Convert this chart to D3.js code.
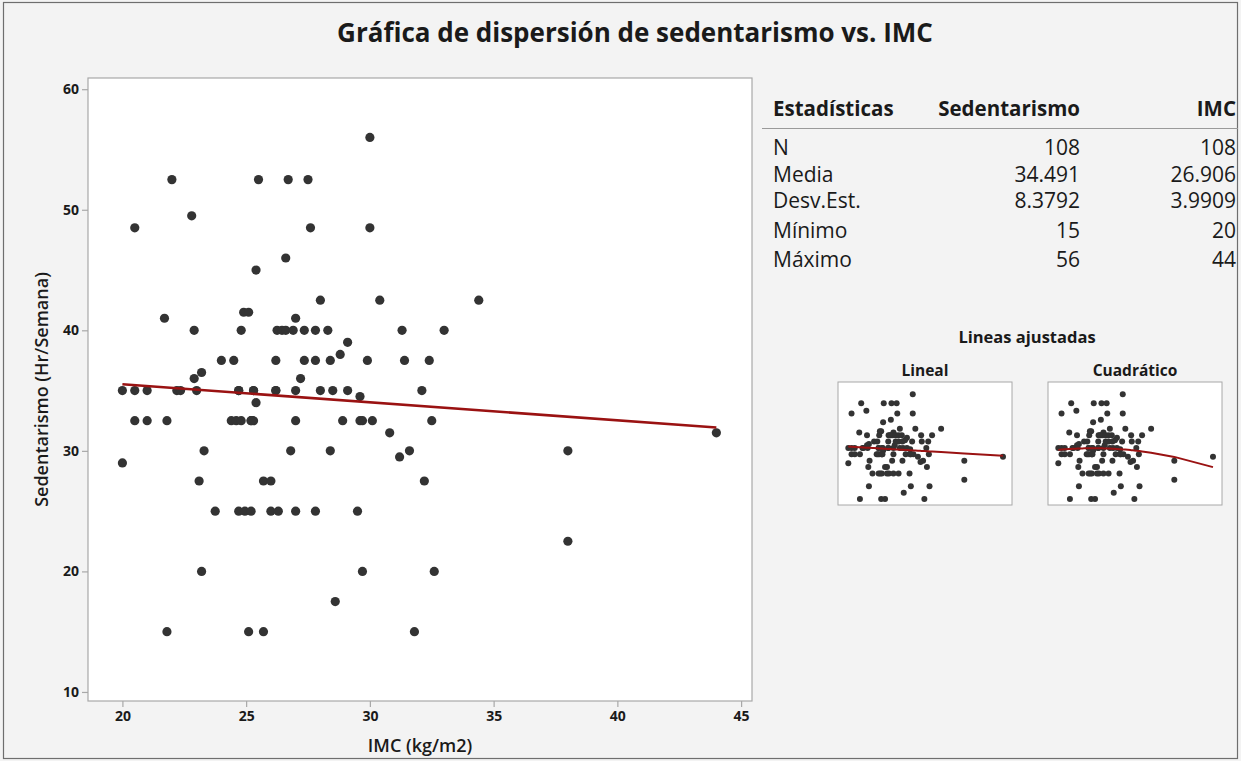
<!DOCTYPE html>
<html>
<head>
<meta charset="utf-8">
<script src="https://cdn.jsdelivr.net/npm/d3@7"></script>
<style>
  body { margin: 0; background: #f3f3f3; }
  svg { display: block; }
  text { font-family: "Open Sans", "Noto Sans", sans-serif; fill: #1a1a1a; }
</style>
</head>
<body>
<svg id="chart" width="1241" height="761"></svg>
<script>
// Índice de masa corporal (kg/m2) por participante
const imc = [
  30.0,
  22.0, 25.5, 26.7, 27.5,
  22.8,
  20.5, 27.6, 30.0,
  26.6,
  25.4,
  28.0, 30.4, 34.4,
  24.9, 25.1,
  21.7, 27.0,
  22.9, 24.8, 26.25, 26.45, 26.6, 26.9, 27.35, 27.8, 28.3, 31.3, 33.0,
  29.1,
  28.8,
  24.0, 24.5, 26.2, 27.35, 27.8, 28.4, 29.9, 31.4, 32.4,
  23.2,
  22.9, 27.2,
  20.0, 20.5, 21.0, 22.2, 22.35, 23.0, 24.7, 25.3, 26.2, 27.0, 28.0, 28.5, 29.1, 32.1, 25.3, 24.7, 26.2,
  29.6,
  25.4,
  20.5, 21.0, 21.8, 24.4, 24.6, 24.8, 25.2, 25.3, 27.0, 28.9, 29.6, 29.7, 30.1, 32.5, 25.2,
  30.8, 44.0,
  23.3, 26.8, 28.4, 31.6, 38.0,
  31.2,
  20.0,
  23.1, 25.7, 26.0, 32.2,
  23.75, 24.7, 24.95, 25.2, 26.0, 26.3, 27.0, 27.8, 29.5,
  38.0,
  23.2, 29.7, 32.6,
  28.6,
  21.8, 25.1, 25.7, 31.8
];

// Horas semanales de sedentarismo, en el mismo orden
const sedentarismo = [
  56,
  52.5, 52.5, 52.5, 52.5,
  49.5,
  48.5, 48.5, 48.5,
  46,
  45,
  42.5, 42.5, 42.5,
  41.5, 41.5,
  41, 41,
  40, 40, 40, 40, 40, 40, 40, 40, 40, 40, 40,
  39,
  38,
  37.5, 37.5, 37.5, 37.5, 37.5, 37.5, 37.5, 37.5, 37.5,
  36.5,
  36, 36,
  35, 35, 35, 35, 35, 35, 35, 35, 35, 35, 35, 35, 35, 35, 35, 35, 35,
  34.5,
  34,
  32.5, 32.5, 32.5, 32.5, 32.5, 32.5, 32.5, 32.5, 32.5, 32.5, 32.5, 32.5, 32.5, 32.5, 32.5,
  31.5, 31.5,
  30, 30, 30, 30, 30,
  29.5,
  29,
  27.5, 27.5, 27.5, 27.5,
  25, 25, 25, 25, 25, 25, 25, 25, 25,
  22.5,
  20, 20, 20,
  17.5,
  15, 15, 15, 15
];

const xTicks = [20, 25, 30, 35, 40, 45];
const yTicks = [10, 20, 30, 40, 50, 60];

// Tabla de estadísticas descriptivas
const statHeaders = ["Estadísticas", "Sedentarismo", "IMC"];
const statLabels = ["N", "Media", "Desv.Est.", "Mínimo", "Máximo"];
const statSed = ["108", "34.491", "8.3792", "15", "56"];
const statImc = ["108", "26.906", "3.9909", "20", "44"];

const fitTitles = ["Lineal", "Cuadrático"];

const points = imc.map((x, i) => ({ x, y: sedentarismo[i] }));

const svg = d3.select("#chart");
const LINE_RED = "#9a1212";
const DOT = "#333333";

// Marco exterior
svg.append("rect")
  .attr("x", 3.5).attr("y", 2.5)
  .attr("width", 1234).attr("height", 756)
  .attr("fill", "#f3f3f3").attr("stroke", "#6e6e6e").attr("stroke-width", 1.2);

// Título
svg.append("text")
  .attr("x", 635).attr("y", 42)
  .attr("text-anchor", "middle")
  .attr("font-size", 26).attr("font-weight", 700)
  .text("Gráfica de dispersión de sedentarismo vs. IMC");

// ---- Gráfica principal ----
const plot = { left: 88, top: 78, right: 752, bottom: 701 };
const x = d3.scaleLinear().domain([18.61, 45.44]).range([plot.left, plot.right]);
const y = d3.scaleLinear().domain([9.25, 60.93]).range([plot.bottom, plot.top]);

svg.append("rect")
  .attr("x", plot.left).attr("y", plot.top)
  .attr("width", plot.right - plot.left).attr("height", plot.bottom - plot.top)
  .attr("fill", "#ffffff").attr("stroke", "#a8a8a8").attr("stroke-width", 1.2);

const xAxis = svg.append("g")
  .attr("transform", `translate(0,${plot.bottom})`)
  .call(d3.axisBottom(x).tickValues(xTicks).tickSize(6).tickPadding(4));
const yAxis = svg.append("g")
  .attr("transform", `translate(${plot.left},0)`)
  .call(d3.axisLeft(y).tickValues(yTicks).tickSize(6).tickPadding(3));
[xAxis, yAxis].forEach(g => {
  g.select(".domain").remove();
  g.selectAll(".tick line").attr("stroke", "#a8a8a8").attr("stroke-width", 1.2);
  g.selectAll(".tick text")
    .attr("font-size", 14).attr("font-weight", 700)
    .attr("font-family", '"Open Sans", "Noto Sans", sans-serif')
    .attr("fill", "#1a1a1a");
});

svg.append("text")
  .attr("x", (plot.left + plot.right) / 2).attr("y", 752)
  .attr("text-anchor", "middle")
  .attr("font-size", 18).attr("font-weight", 600)
  .text("IMC (kg/m2)");

svg.append("text")
  .attr("transform", `translate(48,${(plot.top + plot.bottom) / 2}) rotate(-90)`)
  .attr("text-anchor", "middle")
  .attr("font-size", 18).attr("font-weight", 600)
  .text("Sedentarismo (Hr/Semana)");

// Ajustes por mínimos cuadrados
function linearFit(pts) {
  const mx = d3.mean(pts, d => d.x), my = d3.mean(pts, d => d.y);
  const sxy = d3.sum(pts, d => (d.x - mx) * (d.y - my));
  const sxx = d3.sum(pts, d => (d.x - mx) ** 2);
  const b = sxy / sxx;
  return v => my + b * (v - mx);
}
function quadraticFit(pts) {
  const S = k => d3.sum(pts, d => d.x ** k);
  const T = k => d3.sum(pts, d => d.y * d.x ** k);
  const A = [[S(0), S(1), S(2)], [S(1), S(2), S(3)], [S(2), S(3), S(4)]];
  const B = [T(0), T(1), T(2)];
  // eliminación gaussiana
  const n = 3;
  for (let i = 0; i < n; i++) {
    for (let r = i + 1; r < n; r++) {
      const f = A[r][i] / A[i][i];
      for (let c = i; c < n; c++) A[r][c] -= f * A[i][c];
      B[r] -= f * B[i];
    }
  }
  const c = [0, 0, 0];
  for (let i = n - 1; i >= 0; i--) {
    let s = B[i];
    for (let k = i + 1; k < n; k++) s -= A[i][k] * c[k];
    c[i] = s / A[i][i];
  }
  return v => c[0] + c[1] * v + c[2] * v * v;
}

const lin = linearFit(points);
const quad = quadraticFit(points);
const xExtent = d3.extent(imc);

const plotG = svg.append("g");
plotG.selectAll("circle")
  .data(points).join("circle")
  .attr("cx", d => x(d.x)).attr("cy", d => y(d.y))
  .attr("r", 4.6).attr("fill", DOT);

plotG.append("line")
  .attr("x1", x(xExtent[0])).attr("y1", y(lin(xExtent[0])))
  .attr("x2", x(xExtent[1])).attr("y2", y(lin(xExtent[1])))
  .attr("stroke", LINE_RED).attr("stroke-width", 2.6);

// ---- Tabla de estadísticas ----
const tbl = { left: 773, col1: 1080, col2: 1236, headerY: 116 };
const rowY = [155, 181.5, 208, 237.5, 267];

svg.append("text").attr("x", tbl.left).attr("y", tbl.headerY)
  .attr("font-size", 20.5).attr("font-weight", 700).text(statHeaders[0]);
svg.append("text").attr("x", tbl.col1).attr("y", tbl.headerY)
  .attr("text-anchor", "end").attr("font-size", 20.5).attr("font-weight", 700).text(statHeaders[1]);
svg.append("text").attr("x", tbl.col2).attr("y", tbl.headerY)
  .attr("text-anchor", "end").attr("font-size", 20.5).attr("font-weight", 700).text(statHeaders[2]);
svg.append("line")
  .attr("x1", 762).attr("x2", 1238).attr("y1", 128.5).attr("y2", 128.5)
  .attr("stroke", "#9a9a9a").attr("stroke-width", 1.2);

const rows = svg.append("g").selectAll("g")
  .data(statLabels).join("g");
rows.append("text").attr("x", tbl.left).attr("y", (d, i) => rowY[i])
  .attr("font-size", 21).text(d => d);
rows.append("text").attr("x", tbl.col1).attr("y", (d, i) => rowY[i])
  .attr("text-anchor", "end").attr("font-size", 21).text((d, i) => statSed[i]);
rows.append("text").attr("x", tbl.col2).attr("y", (d, i) => rowY[i])
  .attr("text-anchor", "end").attr("font-size", 21).text((d, i) => statImc[i]);

// ---- Líneas ajustadas (miniaturas) ----
svg.append("text").attr("x", 1027).attr("y", 343)
  .attr("text-anchor", "middle").attr("font-size", 16.5).attr("font-weight", 700)
  .text("Lineas ajustadas");

const thumbs = [
  { left: 838, title: fitTitles[0], fit: lin },
  { left: 1048, title: fitTitles[1], fit: quad }
];
const thumbW = 174, thumbTop = 382, thumbBottom = 505;
const sortedX = Array.from(new Set(imc)).sort(d3.ascending);

thumbs.forEach(t => {
  const tx = d3.scaleLinear().domain([18.4, 45.4]).range([t.left, t.left + thumbW]);
  const ty = d3.scaleLinear().domain([12.66, 60.8]).range([thumbBottom, thumbTop]);
  const g = svg.append("g");
  g.append("text").attr("x", t.left + thumbW / 2).attr("y", thumbTop - 6)
    .attr("text-anchor", "middle").attr("font-size", 15.5).attr("font-weight", 700)
    .text(t.title);
  g.append("rect")
    .attr("x", t.left).attr("y", thumbTop)
    .attr("width", thumbW).attr("height", thumbBottom - thumbTop)
    .attr("fill", "#ffffff").attr("stroke", "#a8a8a8").attr("stroke-width", 1);
  g.selectAll("circle").data(points).join("circle")
    .attr("cx", d => tx(d.x)).attr("cy", d => ty(d.y))
    .attr("r", 3).attr("fill", DOT);
  g.append("path")
    .datum(sortedX)
    .attr("d", d3.line().x(v => tx(v)).y(v => ty(t.fit(v))))
    .attr("fill", "none").attr("stroke", LINE_RED).attr("stroke-width", 2);
});
</script>
</body>
</html>
